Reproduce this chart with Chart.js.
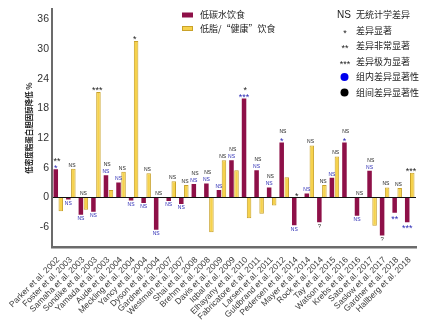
<!DOCTYPE html>
<html>
<head>
<meta charset="utf-8">
<script src="https://cdn.jsdelivr.net/npm/chart.js@4"></script>
<style>
  body { margin: 0; background: #fff; }
  #wrap { width: 445px; height: 324px; }
</style>
</head>
<body>
<div id="wrap"><canvas id="myChart" width="445" height="324"></canvas></div>
<script>
const studies = ['Parker et al. 2002', 'Foster et al. 2003', 'Samaha et al. 2003', 'Sondike et al. 2003',
  'Yamada et al. 2003', 'Aude et al. 2004', 'Meckling et al. 2004', 'Yancy et al. 2004', 'Dyson et al. 2004',
  'Gardner et al. 2007', 'Westman et al. 2007', 'Shai et al. 2008', 'Brehm et al. 2008', 'Davis et al. 2009',
  'Iqbal et al. 2009', 'Elhayany et al. 2010', 'Fabricatore et al. 2011', 'Larsen et al. 2011',
  'Guldbrand et al. 2012', 'Pedersen et al. 2014', 'Mayer et al. 2014', 'Rock et al. 2014', 'Tay et al. 2015',
  'Watson et al. 2016', 'Krebs et al. 2016', 'Sato et al. 2017', 'Saslow et al. 2017', 'Gardner et al. 2018',
  'Hallberg et al. 2018'];
const lowCarb = [5.7, -0.4, -3.5, -2.9, 4.5, 3.0, -0.6, -1.1, -6.5, -0.7, -1.3, 2.7, 2.8, 1.5, 7.5, 20.0,
  5.5, 2.0, 11.1, -5.6, 0.8, -5.0, 4.0, 11.1, -3.7, 5.4, -7.7, -3.1, -5.0];
const lowFat = [-2.8, 5.8, -2.5, 21.3, 1.5, 5.2, 31.6, 4.9, null, 3.3, 2.5, null, -7.0, 7.5, 5.5, -4.2,
  -3.3, -1.6, 4.1, null, 10.5, 2.5, 8.3, null, null, -5.7, 2.0, 1.9, 5.0];
// significance within group (on low-carb bar) and between groups (top of group)
const withinMarks = ['*', 'NS', 'NS', 'NS', 'NS', 'NS', 'NS', 'NS', 'NS', 'NS', 'NS', 'NS', 'NS', 'NS', 'NS',
  '***', 'NS', 'NS', '*', 'NS', 'NS', '?', 'NS', '*', 'NS', 'NS', '?', '**', '***'];
const betweenMarks = ['**', 'NS', 'NS', '***', 'NS', 'NS', '*', 'NS', 'NS', 'NS', 'NS', 'NS', 'NS', 'NS', 'NS',
  '*', 'NS', 'NS', 'NS', '*', 'NS', 'NS', 'NS', 'NS', 'NS', 'NS', 'NS', 'NS', '***'];
const yTicks = [-6, 0, 6, 12, 18, 24, 30, 36];

const seriesNames = ['低碳水饮食', '低脂/“健康”饮食'];
const keyItems = [['NS', '无统计学差异'], ['*', '差异显著'], ['**', '差异非常显著'], ['***', '差异极为显著']];
const dotItems = [['#0000ee', '组内差异显著性'], ['#000000', '组间差异显著性']];

const RED = '#8e1048';
const YEL = '#f6d24c';
const BLUE = '#2b2bb5';
const CJK = '"Noto Sans CJK SC", "Noto Sans", sans-serif';
const LAT = '"Liberation Sans", Arial, sans-serif';

function drawMark(ctx, text, x, cy, color) {
  ctx.fillStyle = color;
  ctx.textAlign = 'center';
  if (text.indexOf('*') >= 0) {
    ctx.font = '9px ' + LAT;
    ctx.textBaseline = 'alphabetic';
    ctx.fillText(text, x, cy + 5);
  } else if (text === '?') {
    ctx.font = '6px ' + LAT;
    ctx.textBaseline = 'middle';
    ctx.fillText(text, x, cy);
  } else {
    ctx.font = '5px ' + LAT;
    ctx.textBaseline = 'middle';
    ctx.fillText(text, x, cy);
  }
}

const marksPlugin = {
  id: 'marks',
  afterDatasetsDraw(chart) {
    const ctx = chart.ctx;
    const red = chart.getDatasetMeta(0).data;
    const yel = chart.getDatasetMeta(1).data;
    const zeroY = chart.scales.y.getPixelForValue(0);
    const xs = chart.scales.x;
    ctx.save();
    studies.forEach((s, i) => {
      const r = red[i];
      const w = withinMarks[i];
      const col = w === '?' ? '#333' : BLUE;
      if (lowCarb[i] >= 0) drawMark(ctx, w, r.x, r.y - 3.5, col);
      else drawMark(ctx, w, r.x, r.y + 4, col);

      let topEdge = zeroY;
      let tallX = xs.getPixelForValue(i);
      if (lowCarb[i] > 0 && r.y - 7 < topEdge) { topEdge = r.y - 7; tallX = r.x; }
      if (lowFat[i] !== null && lowFat[i] > 0 && yel[i].y < topEdge) { topEdge = yel[i].y; tallX = yel[i].x; }
      const bx = (xs.getPixelForValue(i) + tallX) / 2;
      drawMark(ctx, betweenMarks[i], bx, topEdge - 3.5, '#222');
    });
    ctx.restore();
  },
  afterDraw(chart) {
    const ctx = chart.ctx;
    ctx.save();
    // series key
    ctx.fillStyle = RED;
    ctx.fillRect(182, 12.5, 11, 5);
    ctx.fillStyle = YEL;
    ctx.fillRect(182, 26, 11, 5);
    ctx.strokeStyle = '#c9a22a';
    ctx.lineWidth = 1;
    ctx.strokeRect(182.5, 26.5, 10, 4);
    ctx.fillStyle = '#222';
    ctx.font = '9px ' + CJK;
    ctx.textAlign = 'left';
    ctx.textBaseline = 'middle';
    ctx.fillText(seriesNames[0], 200, 15);
    ctx.fillText(seriesNames[1], 200, 28.5);
    // significance key
    keyItems.forEach((k, j) => {
      const y = 15 + j * 15.5;
      ctx.textAlign = 'center';
      if (k[0] === 'NS') {
        ctx.font = '10px ' + LAT;
        ctx.textBaseline = 'middle';
        ctx.fillText(k[0], 344, y);
      } else {
        ctx.font = '9px ' + LAT;
        ctx.textBaseline = 'alphabetic';
        ctx.fillText(k[0], 345, y + 5);
      }
      ctx.textAlign = 'left';
      ctx.textBaseline = 'middle';
      ctx.font = '9px ' + CJK;
      ctx.fillText(k[1], 356, y);
    });
    dotItems.forEach((d, j) => {
      const y = 77 + j * 15.5;
      ctx.fillStyle = d[0];
      ctx.beginPath();
      ctx.arc(344.5, y, 4, 0, Math.PI * 2);
      ctx.fill();
      ctx.fillStyle = '#222';
      ctx.font = '9px ' + CJK;
      ctx.textAlign = 'left';
      ctx.textBaseline = 'middle';
      ctx.fillText(d[1], 356, y);
    });
    ctx.restore();
  }
};

const data = {
  labels: studies,
  datasets: [{
    label: seriesNames[0],
    data: lowCarb,
    backgroundColor: RED,
    borderWidth: 0,
    categoryPercentage: 0.8,
    barPercentage: 0.9
  }, {
    label: seriesNames[1],
    data: lowFat,
    backgroundColor: YEL,
    borderColor: '#c9a22a',
    borderWidth: 1,
    categoryPercentage: 0.8,
    barPercentage: 0.9
  }]
};

const config = {
  type: 'bar',
  data,
  options: {
    responsive: false,
    animation: false,
    layout: { padding: { top: 7, right: 29, left: 0, bottom: 0 } },
    plugins: { legend: { display: false }, tooltip: { enabled: false } },
    scales: {
      x: {
        grid: { display: false },
        border: { color: '#6b6b6b', width: 2.5 },
        ticks: {
          autoSkip: false, minRotation: 45, maxRotation: 45,
          font: { size: 8.5, family: LAT }, color: '#3a3a3a', padding: 0
        },
        afterFit(s) { s.height = 77; }
      },
      y: {
        min: -10,
        max: 38,
        afterBuildTicks(s) { s.ticks = yTicks.map(v => ({ value: v })); },
        grid: {
          color: c => (c.tick && c.tick.value === 0) ? '#111' : 'rgba(0,0,0,0)',
          drawTicks: false,
          lineWidth: 1
        },
        border: { color: '#6b6b6b', width: 2 },
        ticks: { font: { size: 10.5, family: LAT }, color: '#333', padding: 3 },
        title: {
          display: true,
          text: '低密度脂蛋白胆固醇降低 %',
          font: { size: 7.5, weight: 'bold', family: CJK },
          color: '#1a1a1a',
          padding: { top: 25, bottom: 0 }
        },
        afterFit(s) { s.width = 52; }
      }
    }
  },
  plugins: [marksPlugin]
};

const myChart = new Chart(document.getElementById('myChart'), config);
</script>
</body>
</html>
